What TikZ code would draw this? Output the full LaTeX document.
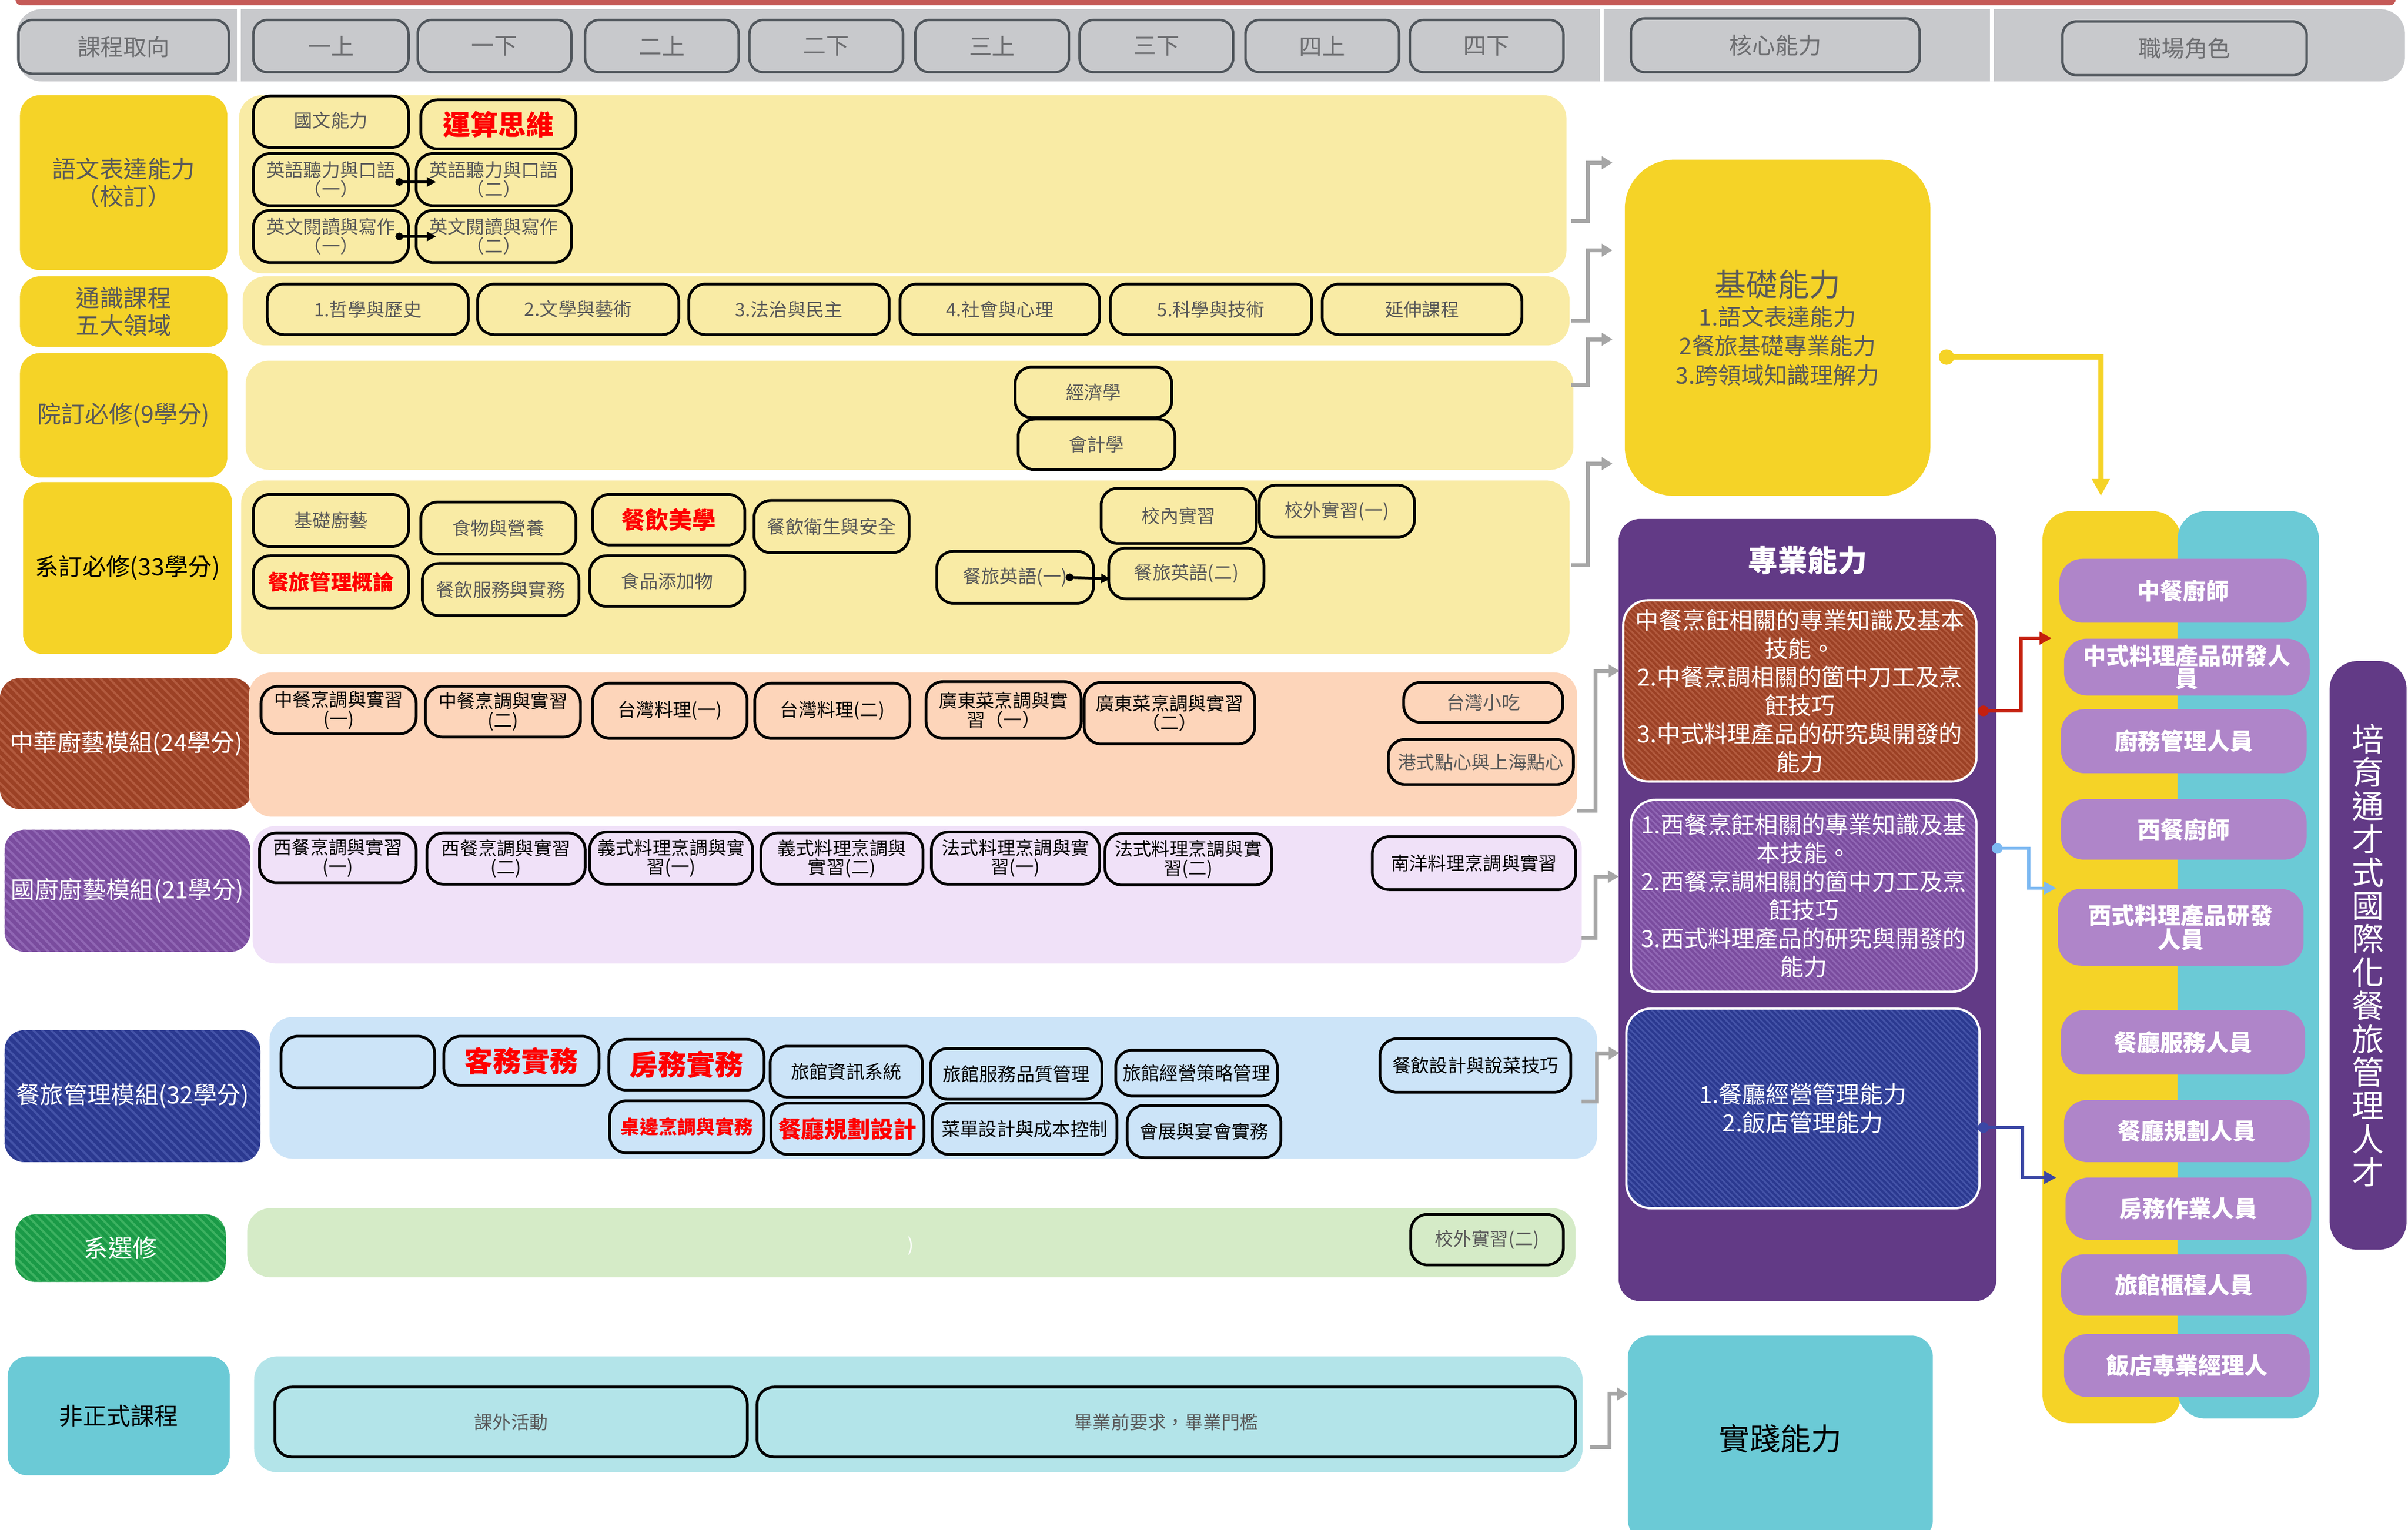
\documentclass[tikz,border=0pt]{standalone}
\usepackage{fontspec}
\setmainfont{Noto Sans CJK TC}
\usetikzlibrary{arrows.meta,calc}
\definecolor{ylab}{HTML}{F5D327}
\definecolor{ylight}{HTML}{F9EBA5}
\definecolor{peach}{HTML}{FDD5BA}
\definecolor{lav}{HTML}{F0E1F8}
\definecolor{lblue}{HTML}{CCE4F8}
\definecolor{lgreen}{HTML}{D5EBC7}
\definecolor{lteal}{HTML}{B3E4E9}
\definecolor{teal}{HTML}{6BCAD6}
\definecolor{purp}{HTML}{623A86}
\definecolor{rolep}{HTML}{AF85C9}
\definecolor{hdr}{HTML}{C8C9CC}
\definecolor{hdrline}{HTML}{50565C}
\definecolor{hdrtext}{HTML}{6D6E71}
\definecolor{txtgray}{HTML}{595959}
\definecolor{redtxt}{HTML}{FF0000}
\definecolor{topred}{HTML}{C55A57}
\definecolor{brA}{HTML}{9C4125}
\definecolor{brB}{HTML}{B25A3E}
\definecolor{puA}{HTML}{7A4C9E}
\definecolor{puB}{HTML}{9066B4}
\definecolor{blA}{HTML}{2B3990}
\definecolor{blB}{HTML}{4453A8}
\definecolor{grA}{HTML}{1A9A47}
\definecolor{grB}{HTML}{3DB261}
\definecolor{conngray}{HTML}{A6A6A6}
\definecolor{redline}{HTML}{C5200E}
\definecolor{lbline}{HTML}{7DB9F2}
\definecolor{bline}{HTML}{3B47A5}
\newcommand\fsz[2]{\fontsize{#1}{#2}\selectfont}
\newcommand\bx[7]{\node[#1,minimum width={(#5-(#3))*1pt},minimum height={(#6-(#4))*1pt}] (#2) at ({(#3+#5)/2},{(#4+#6)/2}) {#7};}
\tikzset{
  base/.style={inner sep=0pt, outer sep=0pt, align=center},
  pill/.style={base, draw=black, line width=1.8pt, rounded corners=11pt, text=txtgray, font=\fsz{12}{12.5}},
  pillY/.style={pill, fill=ylight},
  pillP/.style={pill, fill=peach, text=black},
  pillL/.style={pill, fill=lav, text=black},
  pillB/.style={pill, fill=lblue, text=black},
  pillG/.style={pill, fill=lgreen},
  pillT/.style={pill, fill=lteal},
  redb/.style={text=redtxt, font=\bfseries\fsz{#1}{#1}},
  labbox/.style={base, rounded corners=13pt, fill=ylab, text=txtgray, font=\fsz{15.5}{18}},
  pnl/.style={base, rounded corners=15pt, fill=#1},
  hatch/.style n args={4}{fill=#1, path picture={\foreach \k in {-170,#4,...,290}{\draw[#2,line width=#3] ($(path picture bounding box.north west)+(\k,-3)$) -- ++(320,320);}}},
  hpill/.style={base, draw=hdrline, line width=1.6pt, fill=hdr, rounded corners=9pt, text=hdrtext, font=\fsz{15}{15}},
  role/.style={base, fill=rolep, rounded corners=15pt, text=white, font=\bfseries\fsz{15}{13}},
  sub/.style={base, draw=white, line width=1.5pt, rounded corners=16pt, text=white, font=\fsz{15.3}{18.5}},
  gconn/.style={draw=conngray, line width=2.5pt, -{Triangle[length=7pt,width=8pt]}},
  sarrow/.style={draw=black, line width=1.8pt, {Circle[length=5pt]}-{Triangle[length=6pt,width=6pt]}},
  cconn/.style={draw=#1, line width=2pt, {Circle[length=7pt]}-{Triangle[length=8pt,width=8pt]}},
}
\begin{document}
\begin{tikzpicture}[x=1pt,y=-1pt]
\useasboundingbox (0,0) rectangle (1568,996.4);
\clip (0,0) rectangle (1568,996.4);
% top bar and header
\fill[topred, rounded corners=4pt] (10,-10) rectangle (1560,3.5);
\fill[hdr, rounded corners=16pt] (11,6) rectangle (1566,53);
\draw[white, line width=2.5pt] (155.5,6) -- (155.5,53) (1043,6) -- (1043,53) (1297,6) -- (1297,53);
\bx{hpill}{h0}{12}{13}{149}{48}{課程取向}
\bx{hpill}{s1}{165}{13}{266}{47}{一上}
\bx{hpill}{s2}{272}{13}{372}{47}{一下}
\bx{hpill}{s3}{381}{13}{481}{47}{二上}
\bx{hpill}{s4}{488}{13}{588}{47}{二下}
\bx{hpill}{s5}{596}{13}{696}{47}{三上}
\bx{hpill}{s6}{703}{13}{803}{47}{三下}
\bx{hpill}{s7}{811}{13}{911}{47}{四上}
\bx{hpill}{s8}{918}{13}{1018}{47}{四下}
\bx{hpill}{hc}{1062}{12}{1250}{47}{核心能力}
\bx{hpill}{hr}{1343}{14}{1502}{49}{職場角色}
% row labels
\bx{labbox}{L1}{13}{62}{148}{176}{語文表達能力\\（校訂）}
\bx{labbox}{L2}{13}{180}{148}{226}{通識課程\\五大領域}
\bx{labbox}{L3}{13}{230}{148}{311}{院訂必修(9學分)}
\bx{labbox,text=black}{L4}{15}{314}{151}{426}{系訂必修(33學分)}
\bx{labbox,hatch={brA}{brB}{1.4pt}{-164.2},text=white}{L5}{0}{441.7}{164.5}{527}{中華廚藝模組(24學分)}
\bx{labbox,hatch={puA}{puB}{1.4pt}{-164.2},text=white}{L6}{3}{540.5}{163}{620}{國廚廚藝模組(21學分)}
\bx{labbox,hatch={blA}{blB}{1.4pt}{-164.2},text=white}{L7}{3}{671}{169.5}{757}{餐旅管理模組(32學分)}
\bx{labbox,hatch={grA}{grB}{1.4pt}{-164.2},text=white,font=\fsz{16}{16}}{L8}{10}{791}{147}{835}{系選修}
\bx{labbox,fill=teal,text=black}{L9}{5}{883.5}{149.6}{961}{非正式課程}
% panels
\bx{pnl=ylight}{P1}{155.6}{62}{1020}{178}{}
\bx{pnl=ylight}{P2}{158}{180}{1022}{225}{}
\bx{pnl=ylight}{P3}{160}{235}{1024.5}{306}{}
\bx{pnl=ylight}{P4}{157}{313}{1022}{426}{}
\bx{pnl=peach}{P5}{162}{438}{1027}{532}{}
\bx{pnl=lav}{P6}{164.5}{538}{1030}{627.6}{}
\bx{pnl=lblue}{P7}{175.5}{662.5}{1040}{754.7}{}
\bx{pnl=lgreen}{P8}{161}{787}{1026}{832}{}
\bx{pnl=lteal}{P9}{165.5}{883.5}{1030.5}{959}{}
% row 1
\bx{pillY}{a1}{165}{62.5}{266}{96}{\raisebox{3pt}{國文能力}}
\bx{pillY,redb=18}{a2}{274}{65}{375}{97}{運算思維}
\bx{pillY}{a3}{165}{100}{266}{134}{英語聽力與口語\\（一）}
\bx{pillY}{a4}{271}{100}{372}{134}{英語聽力與口語\\（二）}
\bx{pillY}{a5}{165}{137}{266}{171}{英文閱讀與寫作\\（一）}
\bx{pillY}{a6}{271}{137}{372}{171}{英文閱讀與寫作\\（二）}
% row 2
\bx{pillY}{b1}{174}{185}{305}{218}{1.哲學與歷史}
\bx{pillY}{b2}{311}{185}{442}{218}{2.文學與藝術}
\bx{pillY}{b3}{448.5}{185}{579}{218}{3.法治與民主}
\bx{pillY}{b4}{586}{185}{716}{218}{4.社會與心理}
\bx{pillY}{b5}{723}{185}{854}{218}{5.科學與技術}
\bx{pillY}{b6}{861}{185}{991}{218}{延伸課程}
% row 3
\bx{pillY}{c1}{661}{239}{763}{272}{經濟學}
\bx{pillY}{c2}{663}{273}{765}{306}{會計學}
% row 4
\bx{pillY}{d1}{165}{322}{266}{356}{基礎廚藝}
\bx{pillY}{d2}{274}{327}{375}{361}{食物與營養}
\bx{pillY,redb=15.4}{d3}{386}{322}{485}{355}{餐飲美學}
\bx{pillY}{d4}{491}{326}{592}{360}{餐飲衛生與安全}
\bx{pillY,redb=13.7}{d5}{165}{362}{266}{396}{餐旅管理概論}
\bx{pillY}{d6}{275}{367}{377}{401}{餐飲服務與實務}
\bx{pillY}{d7}{384}{362}{485}{395}{食品添加物}
\bx{pillY}{d8}{717}{318}{818}{354}{校內實習}
\bx{pillY}{d9}{820}{316}{921}{350}{校外實習(一)}
\bx{pillY}{d10}{610}{359}{712}{393}{餐旅英語(一)}
\bx{pillY}{d11}{722}{357}{823}{390}{餐旅英語(二)}
\draw[sarrow] ([xshift=-8.5pt,yshift=-1.5pt]a3.east) -- ([xshift=13pt,yshift=-1.5pt]a4.west);
\draw[sarrow] ([xshift=-8.5pt]a5.east) -- ([xshift=13pt]a6.west);
\draw[sarrow] ([xshift=-18pt]d10.east) -- ([xshift=1pt,yshift=-3.5pt]d11.west);
% row 5
\bx{pillP}{e1}{170}{447}{271}{478}{中餐烹調與實習\\(一)}
\bx{pillP}{e2}{277}{447}{378}{480}{中餐烹調與實習\\(二)}
\bx{pillP}{e3}{386}{445}{486.5}{481}{台灣料理(一)}
\bx{pillP}{e4}{491.5}{445}{592.5}{481}{台灣料理(二)}
\bx{pillP}{e5}{603}{444}{704}{481}{廣東菜烹調與實\\習（一）}
\bx{pillP}{e6}{706}{444.5}{817}{484.6}{廣東菜烹調與實習\\（二）}
\bx{pillP,text=txtgray}{e7}{914}{444.5}{1017.6}{470.5}{台灣小吃}
\bx{pillP,text=txtgray}{e8}{904}{481.6}{1024.5}{511}{港式點心與上海點心}
% row 6
\bx{pillL}{f1}{169}{542.6}{271}{575}{西餐烹調與實習\\(一)}
\bx{pillL}{f2}{278}{542.6}{381}{576}{西餐烹調與實習\\(二)}
\bx{pillL}{f3}{384}{542}{490}{576}{義式料理烹調與實\\習(一)}
\bx{pillL}{f4}{495.5}{542.6}{601}{576}{義式料理烹調與\\實習(二)}
\bx{pillL}{f5}{606.5}{542}{716}{576}{法式料理烹調與實\\習(一)}
\bx{pillL}{f6}{719.5}{543}{828}{576.5}{法式料理烹調與實\\習(二)}
\bx{pillL}{f7}{893.6}{545}{1026}{579.5}{南洋料理烹調與實習}
% row 7
\bx{pillB}{g1}{183}{675}{283}{708.6}{}
\bx{pillB,redb=18.5}{g2}{289}{675}{390}{707}{客務實務}
\bx{pillB,redb=18.5}{g3}{396.5}{677}{497.5}{710}{房務實務}
\bx{pillB}{g4}{501.5}{681.5}{600.6}{714.6}{旅館資訊系統}
\bx{pillB}{g5}{606}{683}{717.5}{716}{旅館服務品質管理}
\bx{pillB}{g6}{726.5}{684}{831.7}{714}{旅館經營策略管理}
\bx{pillB}{g7}{898.6}{676.6}{1022.8}{711.5}{餐飲設計與說菜技巧}
\bx{pillB,redb=12.3}{g8}{397}{717}{497.5}{751}{桌邊烹調與實務}
\bx{pillB,redb=15}{g9}{502}{718.6}{601.6}{752}{餐廳規劃設計}
\bx{pillB}{g10}{607}{718.6}{727.3}{752}{菜單設計與成本控制}
\bx{pillB}{g11}{734}{720}{834}{754}{會展與宴會實務}
% row 8
\bx{pillG}{h1}{918.6}{791}{1018}{824}{校外實習(二)}
\node[base, text=white, font=\fsz{12}{12}] (pq) at (593,811.5) {)};
% row 9
\bx{pillT}{i1}{179}{903.5}{486.6}{949}{課外活動}
\bx{pillT}{i2}{493}{903.5}{1026}{949}{畢業前要求，畢業門檻}
% core abilities
\bx{base,fill=ylab,rounded corners=32pt,text=txtgray,font=\fsz{15}{19}}{K1}{1058}{104}{1257}{323}{{\fsz{20.5}{19}基礎能力}\\1.語文表達能力\\2餐旅基礎專業能力\\3.跨領域知識理解力}
\bx{base,fill=purp,rounded corners=14pt}{K2}{1054}{338}{1300}{847.5}{}
\node[base, text=white, font=\bfseries\fsz{19.4}{19.4}] (K2t) at (1177,365) {專業能力};
\bx{sub,hatch={brA}{brB}{1.1pt}{-166.2}}{K2a}{1057}{391}{1287}{509}{中餐烹飪相關的專業知識及基本\\技能。\\2.中餐烹調相關的箇中刀工及烹\\飪技巧\\3.中式料理產品的研究與開發的\\能力}
\bx{sub,hatch={puA}{puB}{1.1pt}{-166.2}}{K2b}{1062}{521}{1287}{646}{1.西餐烹飪相關的專業知識及基\\本技能。\\2.西餐烹調相關的箇中刀工及烹\\飪技巧\\3.西式料理產品的研究與開發的\\能力}
\bx{sub,hatch={blA}{blB}{1.1pt}{-166.2}}{K2c}{1059}{657}{1289}{787}{1.餐廳經營管理能力\\2.飯店管理能力}
\bx{base,fill=teal,rounded corners=14pt,text=black,font=\fsz{20}{20}}{K3}{1060}{870}{1258.6}{1004}{實踐能力}
% career columns
\bx{base,fill=ylab,rounded corners=18pt}{CY}{1330}{333}{1420}{927}{}
\bx{base,fill=teal,rounded corners=18pt}{CT}{1418}{333}{1510}{924}{}
\bx{role}{r1}{1341}{364}{1502}{405.6}{中餐廚師}
\bx{role}{r2}{1344}{416}{1504}{453}{中式料理產品研發人\\員}
\bx{role}{r3}{1342}{462}{1502}{503.6}{廚務管理人員}
\bx{role}{r4}{1342}{520.6}{1502}{560}{西餐廚師}
\bx{role}{r5}{1340}{579}{1500}{629}{西式料理產品研發\\人員}
\bx{role}{r6}{1342}{658}{1501}{700}{餐廳服務人員}
\bx{role}{r7}{1344}{716.5}{1504}{757}{餐廳規劃人員}
\bx{role}{r8}{1345}{767}{1505}{807.5}{房務作業人員}
\bx{role}{r9}{1342}{817}{1502}{857}{旅館櫃檯人員}
\bx{role}{r10}{1344}{869}{1504}{910}{飯店專業經理人}
\bx{base,fill=purp,rounded corners=18pt,text=white,font=\fsz{21}{21.7}}{V}{1517}{430.6}{1567}{814}{培\\育\\通\\才\\式\\國\\際\\化\\餐\\旅\\管\\理\\人\\才}
% gray connectors
\coordinate (g1s) at (1023,144); \coordinate (g1e) at (1050,106);
\coordinate (g2s) at (1023,209); \coordinate (g2e) at (1050,163);
\coordinate (g3s) at (1023,251); \coordinate (g3e) at (1050,221);
\coordinate (g4s) at (1023,368); \coordinate (g4e) at (1050,302);
\coordinate (g5s) at (1027,528); \coordinate (g5e) at (1054.5,437);
\coordinate (g6s) at (1030,611); \coordinate (g6e) at (1054,571);
\coordinate (g7s) at (1030,717.5); \coordinate (g7e) at (1054.5,686);
\coordinate (g8s) at (1035.5,942.6); \coordinate (g8e) at (1060,908);
\draw[gconn] (g1s) -| ([xshift=-16pt]g1e) -- (g1e);
\draw[gconn] (g2s) -| ([xshift=-16pt]g2e) -- (g2e);
\draw[gconn] (g3s) -| ([xshift=-16pt]g3e) -- (g3e);
\draw[gconn] (g4s) -| ([xshift=-16pt]g4e) -- (g4e);
\draw[gconn] (g5s) -| ([xshift=-15.5pt]g5e) -- (g5e);
\draw[gconn] (g6s) -| ([xshift=-15pt]g6e) -- (g6e);
\draw[gconn] (g7s) -| ([xshift=-14.5pt]g7e) -- (g7e);
\draw[gconn] (g8s) -| ([xshift=-12pt]g8e) -- (g8e);
% coloured connectors
\coordinate (ys) at (1262.5,232.6); \coordinate (ye) at (1368,323);
\draw[draw=ylab, line width=3.3pt, {Circle[length=10pt]}-{Triangle[length=11pt,width=11pt]}] (ys) -| (ye);
\coordinate (rs) at (1288,463); \coordinate (re) at (1336,415.7);
\draw[cconn=redline] (rs) -| ([xshift=-20pt]re) -- (re);
\coordinate (ls) at (1297,552.6); \coordinate (le) at (1339,578.5);
\draw[cconn=lbline] (ls) -| ([xshift=-18pt]le) -- (le);
\coordinate (bs) at (1288,734.5); \coordinate (be) at (1339,767);
\draw[cconn=bline] (bs) -| ([xshift=-22pt]be) -- (be);
\end{tikzpicture}
\end{document}
